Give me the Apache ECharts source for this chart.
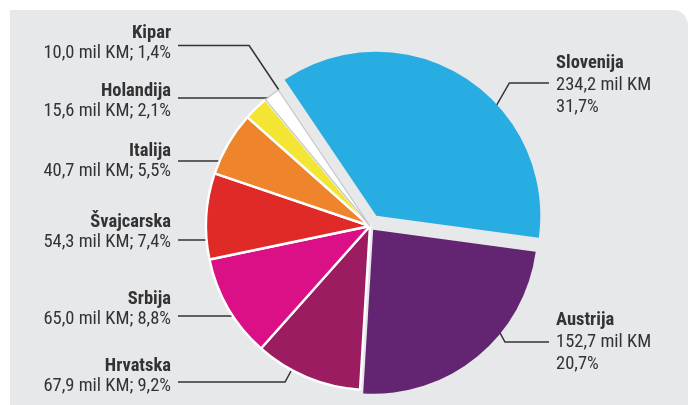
<!DOCTYPE html>
<html>
<head>
<meta charset="utf-8">
<script src="https://cdn.jsdelivr.net/npm/echarts@6/dist/echarts.min.js"></script>
<style>
  html, body { margin: 0; padding: 0; background: #ffffff; }
  #chart { width: 689px; height: 405px; }
</style>
</head>
<body>
<div id="chart"></div>
<script>
// Exports by country: million KM and share of the total
const countries = ['Slovenija', 'Austrija', 'Hrvatska', 'Srbija', 'Švajcarska', 'Italija', 'Holandija', 'Kipar'];
const amounts   = [234.2, 152.7, 67.9, 65.0, 54.3, 40.7, 15.6, 10.0];
const shares    = [31.7, 20.7, 9.2, 8.8, 7.4, 5.5, 2.1, 1.4];
const sliceColors = ['#27ade2', '#632572', '#9c1c61', '#dc1086', '#e02a27', '#ee842c', '#f3e533', '#ffffff'];

// Pie geometry
const CX = 370, CY = 226, R = 164;
const START = 124;                 // ECharts start angle (deg, counter-clockwise from 3 o'clock)
const pulledOut = { 0: 12, 1: 5 }; // slices moved out along their bisector, px

const FONT = "'Liberation Sans Narrow', 'Roboto Condensed', 'DejaVu Sans Condensed', 'Liberation Sans', sans-serif";
const TEXT = '#333333';

// Label placement and leader-line shape for each slice
// side: 1 = label on the right, -1 = on the left; spin/tilt in degrees
const labelSpots = [
  { side:  1, x: 556, y: 85,  lineY: 83,   guide: 'elbow', depth: 0.88, spin: 18,  tilt: -2 },
  { side:  1, x: 556, y: 342, lineY: 342,  guide: 'elbow', depth: 0.84, spin: -16, tilt: 11 },
  { side: -1, x: 171, y: 376, lineY: 382,  guide: 'elbow', depth: 0.92, spin: 6,   tilt: 6 },
  { side: -1, x: 171, y: 309, lineY: 316,  guide: 'flat',  depth: 0.94 },
  { side: -1, x: 171, y: 232, lineY: 240,  guide: 'flat',  depth: 0.91 },
  { side: -1, x: 171, y: 161, lineY: 161,  guide: 'flat',  depth: 0.86 },
  { side: -1, x: 171, y: 101, lineY: 98,   guide: 'flat',  depth: 1.0 },
  { side: -1, x: 171, y: 43,  lineY: 45.5, guide: 'elbow', depth: 1.0,  spin: 3,   tilt: 3 }
];

const total = amounts.reduce((a, b) => a + b, 0);

// bisector of slice i, degrees clockwise from 12 o'clock
function midAngle(i) {
  let before = 0;
  for (let k = 0; k < i; k++) before += amounts[k];
  return (90 - START) + (before + amounts[i] / 2) / total * 360;
}
function unit(deg) {
  const a = deg * Math.PI / 180;
  return [Math.sin(a), -Math.cos(a)];
}
function sliceCenter(i) {
  const off = pulledOut[i] || 0;
  const u = unit(midAngle(i));
  return [CX + u[0] * off, CY + u[1] * off];
}
function guidePoints(i) {
  const s = labelSpots[i];
  const c = sliceCenter(i);
  const r = R * s.depth;
  const end = [s.x - s.side * 7, s.lineY];
  if (s.guide === 'flat') {
    const dy = s.lineY - c[1];
    const dx = Math.sqrt(Math.max(0, r * r - dy * dy));
    const p = [c[0] + s.side * dx, s.lineY];
    return [p, p, end];
  }
  const m = midAngle(i);
  const u = unit(m + s.spin);
  const p = [c[0] + u[0] * r, c[1] + u[1] * r];
  const d = unit(m + s.tilt);
  const t = (s.lineY - p[1]) / d[1];
  return [p, [p[0] + d[0] * t, s.lineY], end];
}

function fmt(n) { return n.toFixed(1).replace('.', ','); }

function labelText(p) {
  const i = p.dataIndex;
  if (labelSpots[i].side > 0) {
    return '{N|' + countries[i] + '}\n{V|' + fmt(amounts[i]) + ' mil KM}\n{V|' + fmt(shares[i]) + '%}';
  }
  return '{n|' + countries[i] + '}\n{v|' + fmt(amounts[i]) + ' mil KM; ' + fmt(shares[i]) + '%}';
}

// One pie layer: every slice keeps its angle, only the chosen ones are painted
function pieLayer(isShown, center, z) {
  return {
    type: 'pie',
    center: center,
    radius: R,
    startAngle: START,
    clockwise: true,
    silent: true,
    animation: false,
    avoidLabelOverlap: false,
    z: z,
    emphasis: { disabled: true },
    label: {
      position: 'outside',
      formatter: labelText,
      rich: {
        n: { fontFamily: FONT, fontSize: 18.5, fontWeight: 'bold', color: TEXT, lineHeight: 20 },
        v: { fontFamily: FONT, fontSize: 18.5, fontWeight: 'normal', color: TEXT, lineHeight: 20 },
        N: { fontFamily: FONT, fontSize: 18.5, fontWeight: 'bold', color: TEXT, lineHeight: 22 },
        V: { fontFamily: FONT, fontSize: 18.5, fontWeight: 'normal', color: TEXT, lineHeight: 22 }
      }
    },
    labelLine: { show: true, length: 10, length2: 10, smooth: false,
                 lineStyle: { color: '#333333', width: 1.5 } },
    labelLayout: function (p) {
      const s = labelSpots[p.dataIndex];
      return {
        x: s.x, y: s.y,
        align: s.side > 0 ? 'left' : 'right',
        verticalAlign: 'middle',
        labelLinePoints: guidePoints(p.dataIndex)
      };
    },
    data: countries.map(function (name, i) {
      const shown = isShown(i);
      let style;
      if (!shown) style = { color: 'rgba(0,0,0,0)', borderWidth: 0 };
      else if (pulledOut[i]) style = { color: sliceColors[i], borderWidth: 0 };
      else if (i === countries.length - 1) style = { color: sliceColors[i], borderColor: '#c4c4c4', borderWidth: 1.2 };
      else style = { color: sliceColors[i], borderColor: '#ffffff', borderWidth: 2.4 };
      return {
        name: name,
        value: amounts[i],
        itemStyle: style,
        label: { show: shown, align: labelSpots[i].side > 0 ? 'left' : 'right' },
        labelLine: { show: shown }
      };
    })
  };
}

const series = [pieLayer(function (i) { return !pulledOut[i]; }, [CX, CY], 2)];
Object.keys(pulledOut).forEach(function (k) {
  const i = +k;
  series.push(pieLayer(function (j) { return j === i; }, sliceCenter(i), 3));
});

const chart = echarts.init(document.getElementById('chart'), null, { renderer: 'canvas' });
chart.setOption({
  backgroundColor: '#ffffff',
  animation: false,
  graphic: [{
    type: 'rect', z: 0, silent: true,
    shape: { x: 10, y: 10, width: 678, height: 420, r: [0, 15, 0, 0] },
    style: { fill: '#e7e8ea' }
  }],
  series: series
});
</script>
</body>
</html>
